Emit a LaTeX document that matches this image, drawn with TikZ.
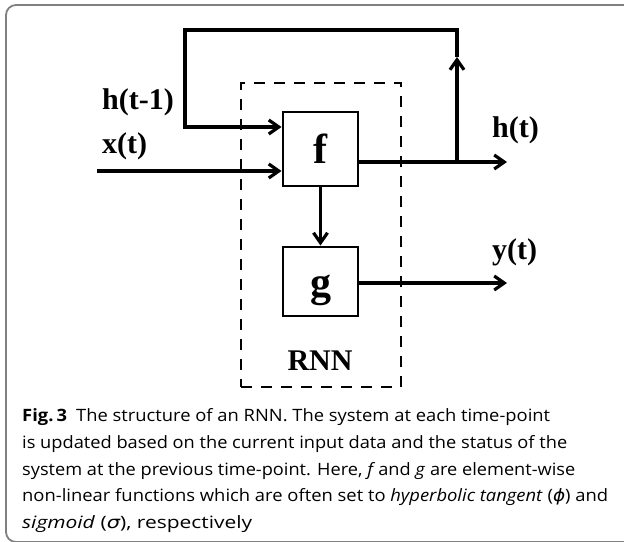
\documentclass[tikz,border=0pt]{standalone}
\usepackage{fontspec}
\setmainfont{Open Sans}
\newfontfamily\tnr{Liberation Serif}
\newfontfamily\grk{DejaVu Sans}
\usetikzlibrary{arrows.meta}
\begin{document}
\begin{tikzpicture}[x=1pt,y=-1pt,
  ln/.style={line width=3.2pt, line join=miter},
  arr/.style={ln, -{Straight Barb[length=10pt,width=14pt]}},
  blk/.style={draw, line width=2.9pt, minimum width=75pt, inner sep=0pt,
    text width=75pt, align=center, font=\tnr\bfseries\fontsize{42}{42}\selectfont},
  lab/.style={font=\tnr\bfseries\fontsize{30}{30}\selectfont, inner sep=0pt, anchor=base west},
  captext/.style={font=\fontsize{17}{20}\selectfont, inner sep=0pt, anchor=base west}]
\useasboundingbox (0,0) rectangle (624,541);
\draw[black!50, line width=1.8pt, rounded corners=10pt] (6,5) rectangle (634,542);

% dashed RNN box
\node[draw, line width=2.7pt, dash pattern=on 11pt off 9pt, minimum width=160pt,
  minimum height=304pt, inner sep=0pt] (rnn) at (321,235) {};
\node[font=\tnr\bfseries\fontsize{30}{30}\selectfont, inner sep=0pt, anchor=base] (rnnl) at (320,370) {RNN};

% blocks
\node[blk, text height=51pt, text depth=23pt] (f) at (320.5,149) {f};
\node[blk, text height=49pt, text depth=20pt] (g) at (320.5,281.5) {g};

% labels
\node[lab] (lh1) at (102,109.5) {h(t-1)};
\node[lab] (lx) at (102,153) {x(t)};
\node[lab] (lh) at (492,137) {h(t)};
\node[lab] (ly) at (492,259) {y(t)};

% coordinates
\coordinate (xin) at (97,171);
\coordinate (hl) at (185,127);
\coordinate (tl) at (185,30);
\coordinate (tr) at (457,30);
\coordinate (br) at (457,162);
\coordinate (up) at (457,57);
\coordinate (hout) at (507,162);
\coordinate (yout) at (507,283);

% connectors
\draw[arr] (xin) -- (xin -| f.west);
\draw[ln] (f.east |- br) -- (br);
\draw[arr] (br) -- (hout);
\draw[arr] (br) -- (up);
\draw[arr] (up) -- (tr) -- (tl) -- (hl) -- (hl -| f.west);
\draw[arr] (f.south) -- (g.north);
\draw[arr] (g.east |- yout) -- (yout);

% caption
\node[captext] (c1) at (22,421.7) {\resizebox{528pt}{\height}{{\bfseries Fig.\,3}\enspace The structure of an RNN. The system at each time-point}};
\node[captext] (c2) at (22,448.4) {\resizebox{545pt}{\height}{is updated based on the current input data and the status of the}};
\node[captext] (c3) at (22,475.1) {\resizebox{553pt}{\height}{system at the previous time-point. Here, \textit{f}\,and \textit{g} are element-wise}};
\node[captext] (c4) at (22,501.8) {\resizebox{586pt}{\height}{non-linear functions which are often set to \textit{hyperbolic tangent} ({\grk\itshape ϕ}) and}};
\node[captext] (c5) at (22,528.5) {\resizebox{230pt}{\height}{\textit{sigmoid} ({\grk\itshape σ}), respectively}};
\end{tikzpicture}
\end{document}
